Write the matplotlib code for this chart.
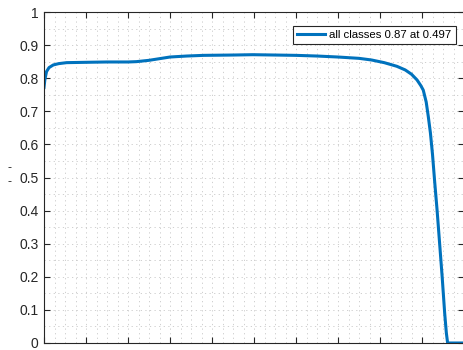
import matplotlib.pyplot as plt
import numpy as np
from matplotlib.ticker import MultipleLocator

# F1 vs confidence
conf = [0, 0.002, 0.006, 0.012, 0.022, 0.035, 0.054, 0.1, 0.15, 0.2, 0.22, 0.25,
        0.28, 0.3, 0.34, 0.38, 0.45, 0.497, 0.55, 0.6, 0.65, 0.7, 0.75, 0.78, 0.81,
        0.84, 0.86, 0.875, 0.888, 0.897, 0.903, 0.91, 0.915, 0.92, 0.925, 0.93,
        0.936, 0.942, 0.948, 0.954, 0.958, 0.961, 0.97, 1.0]
f1 = [0.772, 0.795, 0.82, 0.832, 0.84, 0.844, 0.847, 0.848, 0.849, 0.849, 0.85, 0.854,
      0.86, 0.864, 0.867, 0.869, 0.87, 0.871, 0.87, 0.869, 0.867, 0.864, 0.86, 0.855, 0.847,
      0.836, 0.825, 0.812, 0.795, 0.778, 0.764, 0.728, 0.684, 0.635, 0.57, 0.49,
      0.40, 0.30, 0.20, 0.09, 0.03, 0.0, 0.0, 0.0]
legend_label = 'all classes 0.87 at 0.497'
yticks = np.round(np.arange(0, 1.01, 0.1), 1)
ytick_labels = ['0', '0.1', '0.2', '0.3', '0.4', '0.5', '0.6', '0.7', '0.8', '0.9', '1']

plt.rcParams['font.family'] = ['Liberation Sans', 'DejaVu Sans']

fig = plt.figure(figsize=(4.63, 3.5), dpi=100)
ax = fig.add_axes([44 / 463, 7 / 350, 420 / 463, 331 / 350])

ax.plot(conf, f1, color='#0072BD', lw=2.2, label=legend_label)

ax.set_xlim(0, 1)
ax.set_ylim(0, 1)
ax.set_xticks(np.arange(0, 1.01, 0.1))
ax.set_xticklabels([])
ax.set_yticks(yticks)
ax.set_yticklabels(ytick_labels, fontsize=10, color='#262626')
ax.xaxis.set_minor_locator(MultipleLocator(0.025))
ax.yaxis.set_minor_locator(MultipleLocator(0.05))
ax.tick_params(which='major', direction='in', length=4, width=0.8, color='#262626',
               top=True, right=True, pad=4)
ax.tick_params(which='minor', length=0, top=True, right=True)
ax.grid(which='both', ls=(0, (1.5, 4)), color='#c8c8c8', lw=0.6)
ax.set_axisbelow(True)
for s in ax.spines.values():
    s.set_color('#262626')
    s.set_linewidth(0.8)

leg = ax.legend(loc='upper right', fontsize=8.2, frameon=True, fancybox=False,
                edgecolor='#262626', framealpha=1, handlelength=2.45,
                handletextpad=0.35, borderpad=0.35, borderaxespad=0,
                bbox_to_anchor=(0.980, 0.9586))
leg.get_frame().set_linewidth(0.8)

fig.text(10 / 463, 0.5, '-\n-', fontsize=9, ha='center', va='center',
         color='#262626', linespacing=1.2)

fig.savefig('out.png', dpi=100)
